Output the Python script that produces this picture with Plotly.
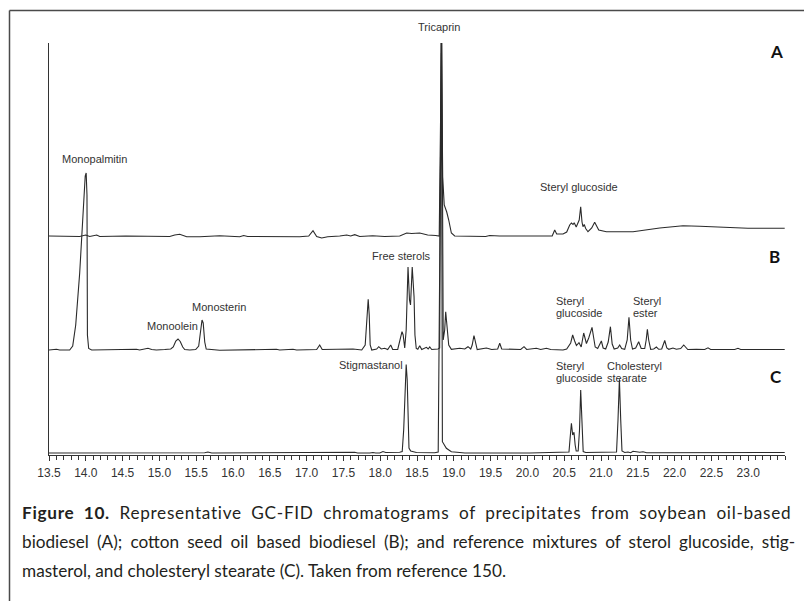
import plotly.graph_objects as go

# ---- chromatogram data: retention time (min) and detector response above each trace's baseline ----
a_time = [13.5, 13.781, 13.917, 13.999, 14.053, 14.148, 14.189, 14.542, 15.140, 15.208, 15.276, 15.371,
          15.548, 15.819, 15.955, 16.091, 16.145, 16.200, 16.906, 17.029, 17.087, 17.137, 17.205, 17.287,
          17.450, 17.545, 17.599, 17.654, 17.722, 17.898, 18.061, 18.265, 18.360, 18.428, 18.537, 18.645,
          18.754, 18.802, 18.832, 18.849, 18.870, 18.904, 18.931, 18.967, 19.012, 19.216, 19.433, 19.488,
          19.623, 20.337, 20.371, 20.398, 20.484, 20.534, 20.575, 20.598, 20.620, 20.636, 20.663, 20.704,
          20.724, 20.742, 20.755, 20.772, 20.792, 20.823, 20.874, 20.914, 20.942, 20.969, 21.073, 21.435,
          21.798, 22.114, 22.341, 22.613, 22.997, 23.496]
a_signal = [0, 0, -0.5, 1, -0.5, 1, -0.5, 0, -0.5, 1, 1.7, -0.7,
            -0.7, 0.3, -0.5, -0.7, 0.5, -0.5, -0.7, 0, 5.3, -0.5, -2, -0.7,
            0, 1, 0, 1.3, -0.5, 0.3, -0.5, 0, 3, 2.5, 3, 1,
            0.5, 0, 193, 59, 31, 24, 16, 3, 0, -0.3, -0.5, 0.5,
            0, 0, 6, 2, 2, 4, 11, 13, 11.5, 13.3, 9, 16,
            29.3, 14, 9.3, 11.5, 7.5, 4.3, 8, 13.7, 9, 6, 4.3, 4.3,
            8, 10.3, 9.7, 8.7, 7.7, 7.7]

b_time = [13.5, 13.601, 13.645, 13.781, 13.822, 13.863, 13.917, 13.965, 13.992, 14.005, 14.016, 14.022,
          14.039, 14.080, 14.688, 14.732, 14.800, 14.845, 14.895, 14.959, 15.072, 15.154, 15.188, 15.223,
          15.253, 15.283, 15.317, 15.344, 15.412, 15.493, 15.534, 15.562, 15.579, 15.595, 15.616, 15.636,
          15.683, 15.765, 15.819, 16.590, 16.634, 16.815, 16.865, 17.137, 17.178, 17.212, 17.314, 17.427,
          17.630, 17.749, 17.796, 17.823, 17.837, 17.851, 17.864, 17.885, 17.952, 17.980, 18.014, 18.061,
          18.102, 18.143, 18.170, 18.238, 18.272, 18.296, 18.312, 18.333, 18.353, 18.378, 18.398, 18.412,
          18.435, 18.450, 18.460, 18.472, 18.490, 18.511, 18.537, 18.564, 18.628, 18.652, 18.673, 18.700,
          18.785, 18.808, 18.832, 18.856, 18.876, 18.890, 18.908, 18.931, 18.967, 19.081, 19.149, 19.193,
          19.230, 19.250, 19.274, 19.297, 19.318, 19.443, 19.515, 19.596, 19.624, 19.651, 19.851, 19.909,
          19.954, 19.990, 20.122, 20.181, 20.258, 20.317, 20.484, 20.534, 20.588, 20.615, 20.642, 20.666,
          20.701, 20.731, 20.765, 20.802, 20.833, 20.878, 20.901, 20.921, 20.955, 21.005, 21.029, 21.064,
          21.098, 21.128, 21.152, 21.179, 21.227, 21.254, 21.281, 21.322, 21.356, 21.380, 21.403, 21.428,
          21.471, 21.512, 21.546, 21.594, 21.614, 21.630, 21.648, 21.675, 21.716, 21.753, 21.784, 21.825,
          21.866, 21.894, 21.921, 21.978, 22.024, 22.083, 22.124, 22.179, 22.296, 22.409, 22.454, 22.490,
          22.817, 22.861, 22.898, 23.496]
b_signal = [0, 0.7, 0, 0, 4, 25, 77, 140, 174, 177, 155, 15,
            1.5, 0, 0.7, 0, 1, 1.7, 0.5, 0, 0.5, 1, 3, 9,
            11, 8.5, 3, 0.5, 0, 0.5, 4, 20, 30, 27, 8, 1,
            0.7, 0.5, -0.3, 0.7, 0, 0.7, 0, 0.5, 5, 0.5, 0.7, 0.7,
            1, 0, 5, 35, 50.7, 35, 5, 0, 1, 3.3, 1, 1.7,
            0.5, 5, 0.5, 0.5, 10, 18.3, 15, 2, 20, 83, 50, 45,
            83, 65, 53, 15, 1.5, 0.7, 4.3, 0.5, 2.7, 1, 3, 0.5,
            1, 2, 400, 10, 20, 38.3, 20, 5, 0.7, 1.7, 1, 3.3,
            1, 5, 14.5, 5, 0.5, 2, 0.5, 1, 6.7, 1, 1, 0.5,
            3.3, 0.5, 1.7, 0.5, 1.7, 0.5, 0, 1, 7, 15, 9, 4.5,
            7.3, 3, 17, 6.5, 12, 22.7, 12, 3, 1.5, 9, 2, 1,
            8, 23.3, 6, 1, 2, 5, 1.5, 0.7, 10, 32.7, 10, 1,
            2, 8.3, 1.5, 1.5, 10, 20.7, 10, 0.7, 1, 3, 0.7, 1,
            9.5, 2, 0.7, 2, 0.7, 1.5, 5, 0.5, 0.7, 0.5, 2.2, 0.5,
            0.5, 1.7, 0.5, 0.5]

c_time = [13.5, 15.480, 15.520, 15.615, 15.660, 15.711, 17.654, 17.695, 17.857, 17.902, 17.939, 17.993,
          18.038, 18.075, 18.265, 18.299, 18.319, 18.339, 18.353, 18.367, 18.378, 18.391, 18.414, 18.492,
          18.740, 18.788, 18.832, 18.845, 18.899, 18.967, 19.081, 19.149, 20.031, 20.565, 20.584, 20.598,
          20.615, 20.633, 20.649, 20.663, 20.690, 20.708, 20.724, 20.740, 20.758, 20.792, 21.211, 21.231,
          21.250, 21.268, 21.285, 21.322, 21.367, 21.403, 21.435, 21.481, 21.526, 21.571, 21.621, 23.496]
c_signal = [0, 0.5, 0, 0.3, 1, 0, 0.7, 0, 0, 0.5, 0, 0,
            1.5, 0.5, 0.7, 1.5, 23, 73, 88.5, 73, 21.3, 5, 2, 0.5,
            0.3, 1, 400, 11.3, 4.7, 1.3, 0.5, 0, 0, 1, 18, 29.7,
            18, 20.7, 8, 2, 2, 23, 63, 23, 1.5, 0.5, 1, 33,
            73.7, 33, 2, 0.5, 1, 0.3, 1.7, 1.2, 0.7, 1.2, 0.3, 0.5]

tick_values = [13.5, 14.0, 14.5, 15.0, 15.5, 16.0, 16.5, 17.0, 17.5, 18.0, 18.5, 19.0,
               19.5, 20.0, 20.5, 21.0, 21.5, 22.0, 22.5, 23.0]
tick_labels = ["13.5", "14.0", "14.5", "15.0", "15.5", "16.0", "16.5", "17.0", "17.5", "18.0",
               "18.5", "19.0", "19.5", "20.0", "20.5", "21.0", "21.5", "22.0", "22.5", "23.0"]

caption_lines = [
    "<b>Figure 10.</b> Representative GC-FID chromatograms of precipitates from soybean oil-based",
    "biodiesel (A); cotton seed oil based biodiesel (B); and reference mixtures of sterol glucoside, stig-",
    "masterol, and cholesteryl stearate (C). Taken from reference 150.",
]

# ---- page geometry (pixels) ----
W, H = 804, 601
PL, PR, PT, PB = 49, 785, 43, 455        # plot area edges
Y_TOP = PB - PT                          # stacked response units == pixels
OFFSETS = {"A": 219, "B": 105, "C": 2}   # vertical stacking of the three chromatograms


def paper_x(px):
    return (px - PL) / (PR - PL)


def paper_y(py):
    return (PB - py) / (PB - PT)


LINE = "#2a2a2a"
INK = "#333333"
LABEL_FONT = dict(family="Liberation Sans, Arial, sans-serif", size=11, color=INK)

fig = go.Figure()
for name, t, s in (("A", a_time, a_signal), ("B", b_time, b_signal), ("C", c_time, c_signal)):
    fig.add_trace(go.Scatter(
        x=t, y=[v + OFFSETS[name] for v in s], mode="lines", name=name,
        line=dict(color=LINE, width=1.1), hoverinfo="skip", showlegend=False,
    ))

annotations = []


def label(text, x, y, xanchor="center", font=LABEL_FONT, yref="y"):
    annotations.append(dict(text=text, x=x, y=y, xref="x", yref=yref, showarrow=False,
                            xanchor=xanchor, yanchor="middle", font=font))


# peak names (x in minutes, y in stacked units)
label("Monopalmitin", 14.121, 296)
label("Tricaprin", 18.795, paper_y(27), yref="paper")
label("Steryl glucoside", 20.697, 268.3)
label("Free sterols", 18.288, 199)
label("Monoolein", 15.174, 129)
label("Monosterin", 15.812, 147.7)
label("Steryl", 20.361, 154, "left")
label("glucoside", 20.361, 141.7, "left")
label("Steryl", 21.413, 154, "left")
label("ester", 21.413, 141.7, "left")
label("Stigmastanol", 17.880, 90)
label("Steryl", 20.361, 89, "left")
label("glucoside", 20.361, 77.3, "left")
label("Cholesteryl", 21.060, 89, "left")
label("stearate", 21.060, 77.3, "left")

panel_font = dict(family="Lato, Noto Sans, sans-serif", size=17, color="#111111")
label("<b>A</b>", 23.383, 403.3, font=panel_font)
label("<b>B</b>", 23.360, 198.3, font=panel_font)
label("<b>C</b>", 23.383, 79, font=panel_font)

# caption, the first two lines spread out to the full text width
cap_font = dict(family="Lato, sans-serif", size=17.2, color="#231f20")
line_style = ["letter-spacing:0.7px;word-spacing:4.5px", "word-spacing:3.7px", ""]
for i, line in enumerate(caption_lines):
    text = f'<span style="{line_style[i]}">{line}</span>' if line_style[i] else line
    annotations.append(dict(text=text, x=paper_x(20), y=paper_y(512 + 29 * i), xref="paper",
                            yref="paper", showarrow=False, xanchor="left", yanchor="middle",
                            font=cap_font))

# page frame
frame = dict(color="#4a4a4a", width=1.5)
shapes = [
    dict(type="line", xref="paper", yref="paper", x0=paper_x(9.5), x1=paper_x(9.5),
         y0=paper_y(H + 2), y1=paper_y(10.5), line=frame),
    dict(type="line", xref="paper", yref="paper", x0=paper_x(9.5), x1=paper_x(W + 2),
         y0=paper_y(10.5), y1=paper_y(10.5), line=frame),
]

fig.update_layout(
    width=W, height=H,
    margin=dict(l=PL, r=W - PR, t=PT, b=H - PB, pad=0),
    paper_bgcolor="white", plot_bgcolor="white",
    annotations=annotations, shapes=shapes,
    xaxis=dict(range=[13.5, 23.5], showgrid=False, zeroline=False,
               showline=True, linecolor=INK, linewidth=1,
               tickmode="array", tickvals=tick_values, ticktext=tick_labels,
               ticks="outside", ticklen=5, tickcolor=INK, tickwidth=1, ticklabelstandoff=2,
               tickfont=dict(family="Liberation Sans, Arial, sans-serif", size=12, color=INK),
               minor=dict(dtick=0.1, tick0=13.5, ticks="outside", ticklen=4, tickcolor=INK,
                          showgrid=False)),
    yaxis=dict(range=[0, Y_TOP], showgrid=False, zeroline=False, showticklabels=False,
               ticks="", showline=True, linecolor=INK, linewidth=1),
)

fig.write_html("out.html")
